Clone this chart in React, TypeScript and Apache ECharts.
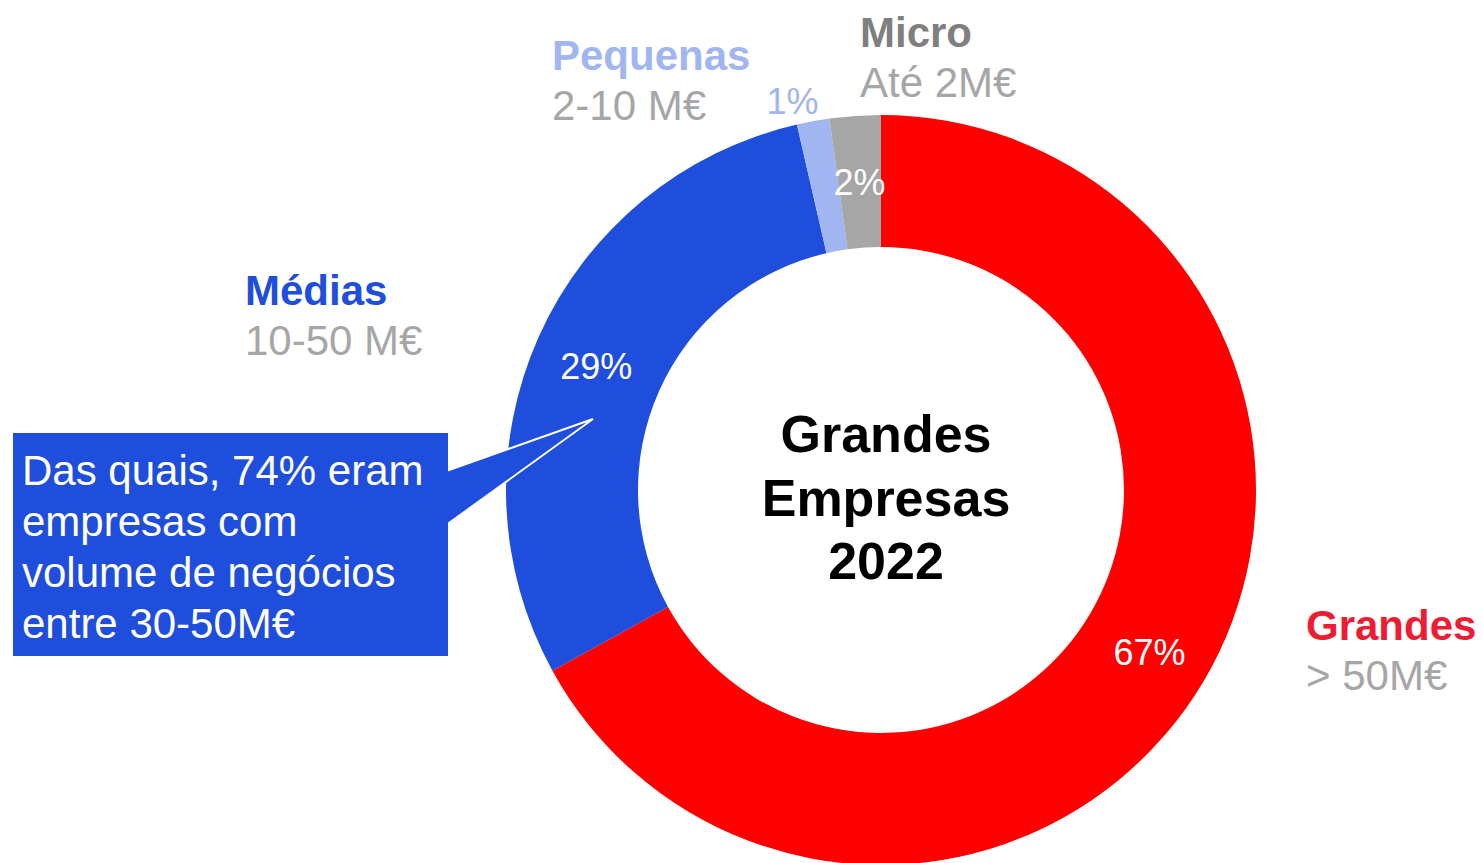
import React, { useEffect, useRef } from 'react';
import * as echarts from 'echarts';

const categories = ['Grandes', 'Médias', 'Pequenas', 'Micro'];
const ranges = ['> 50M€', '10-50 M€', '2-10 M€', 'Até 2M€'];
const shares = [67.0, 29.4, 1.4, 2.2];
const sliceColors = ['#FF0000', '#1F4EDC', '#A1B5F0', '#A6A6A6'];
const titleColors = ['#EE1C33', '#1F4EDC', '#A1B5F0', '#7F7F7F'];
const centerTitle = ['Grandes', 'Empresas', '2022'];
const calloutLines = ['Das quais, 74% eram', 'empresas com', 'volume de negócios', 'entre 30-50M€'];

const FONT = "'Liberation Sans', Arial, sans-serif";
const titlePos: [number, number][] = [
  [1306, 625],
  [245, 290],
  [552, 55],
  [860, 32],
];

export default function App() {
  const ref = useRef<HTMLDivElement>(null);
  useEffect(() => {
    if (!ref.current) return;
    const chart = echarts.init(ref.current, undefined, { renderer: 'svg' });
    const graphics: any[] = [];
    categories.forEach((c, i) => {
      const [x, y] = titlePos[i];
      graphics.push({
        type: 'text', x, y, z: 50,
        style: { text: c, fill: titleColors[i], font: `bold 42px ${FONT}`, textAlign: 'left', textVerticalAlign: 'middle' },
      });
      graphics.push({
        type: 'text', x, y: y + 50, z: 50,
        style: { text: ranges[i], fill: '#A6A6A6', font: `42px ${FONT}`, textAlign: 'left', textVerticalAlign: 'middle' },
      });
    });
    centerTitle.forEach((t, i) => {
      graphics.push({
        type: 'text', x: 886, y: 434 + i * 63.5, z: 50,
        style: { text: t, fill: '#000', font: `bold 52px ${FONT}`, textAlign: 'center', textVerticalAlign: 'middle' },
      });
    });
    graphics.push({
      type: 'polygon', z: 100,
      shape: {
        points: [[12, 432], [449, 432], [449, 470], [593, 419], [449, 523], [449, 657], [12, 657]],
      },
      style: { fill: '#1F4EDC', stroke: '#FFFFFF', lineWidth: 2 },
    });
    calloutLines.forEach((t, i) => {
      graphics.push({
        type: 'text', x: 22, y: 470 + i * 51, z: 101,
        style: { text: t, fill: '#FFFFFF', font: `42px ${FONT}`, textAlign: 'left', textVerticalAlign: 'middle' },
      });
    });

    chart.setOption({
      animation: false,
      backgroundColor: '#FFFFFF',
      series: [
        {
          type: 'pie',
          center: [881, 490],
          radius: [243, 375],
          startAngle: 90,
          clockwise: true,
          silent: true,
          avoidLabelOverlap: false,
          emphasis: { disabled: true },
          label: {
            show: true,
            position: 'inside',
            formatter: (p: any) => '{v|' + Math.round(p.value) + '%}',
            color: '#FFFFFF',
            fontSize: 36,
            fontFamily: FONT,
            rich: {
              v: { color: '#FFFFFF', fontSize: 36, fontFamily: FONT, padding: [7, 0, 0, 0] },
            },
          },
          labelLine: { show: false },
          itemStyle: { borderWidth: 0 },
          data: categories.map((c, i) => {
            const d: any = { name: c, value: shares[i], itemStyle: { color: sliceColors[i] } };
            if (i === 2) {
              d.label = {
                position: 'outside',
                color: '#A1B5F0',
                distanceToLabelLine: -9,
                formatter: (p: any) => Math.round(p.value) + '%',
              };
              d.labelLine = { show: false, length: 20, length2: 0 };
            }
            return d;
          }),
        },
      ],
      graphic: graphics,
    });
    return () => chart.dispose();
  }, []);
  return <div ref={ref} style={{ position: 'fixed', left: 0, top: 0, width: 1483, height: 863 }} />;
}
